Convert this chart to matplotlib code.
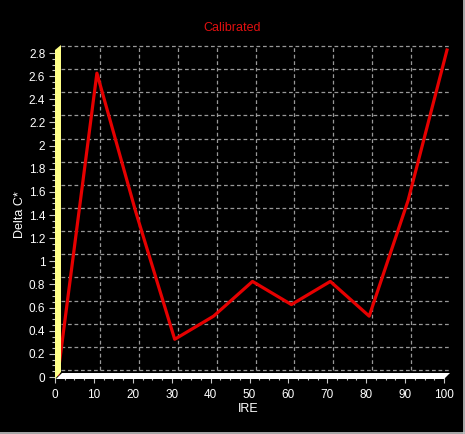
import matplotlib
matplotlib.use('Agg')
import matplotlib.pyplot as plt
from matplotlib.patches import Polygon
from matplotlib.lines import Line2D
from matplotlib.transforms import offset_copy, IdentityTransform
from matplotlib.ticker import MultipleLocator

# ---- data ----
ire = [0, 10, 20, 30, 40, 50, 60, 70, 80, 90, 100]
delta_c = [0.0, 2.6, 1.4, 0.3, 0.5, 0.8, 0.6, 0.8, 0.5, 1.5, 2.8]
x_ticks = [0, 10, 20, 30, 40, 50, 60, 70, 80, 90, 100]
y_ticks = [0, 0.2, 0.4, 0.6, 0.8, 1.0, 1.2, 1.4, 1.6, 1.8, 2.0, 2.2, 2.4, 2.6, 2.8]
y_tick_labels = ['0', '0.2', '0.4', '0.6', '0.8', '1', '1.2', '1.4', '1.6', '1.8',
                 '2', '2.2', '2.4', '2.6', '2.8']
title = 'Calibrated'
x_label = 'IRE'
y_label = 'Delta C*'

FONT = ['Liberation Sans', 'DejaVu Sans']
plt.rcParams['font.family'] = FONT

W, H = 465, 434
fig = plt.figure(figsize=(W / 100, H / 100), dpi=100, facecolor='black')
ax = fig.add_axes([55 / W, (H - 377) / H, 389 / W, 324 / H])
ax.set_facecolor('black')
ax.set_xlim(0, 100)
ax.set_ylim(0, 2.8)
for s in ax.spines.values():
    s.set_visible(False)

# depth offsets (pixels)
DX, DY = 6, 7
back = offset_copy(ax.transData, fig=fig, x=DX, y=DY, units='dots')
mid = offset_copy(ax.transData, fig=fig, x=3, y=3, units='dots')

grid_kw = dict(color='#989898', lw=0.9, ls=(0, (3.0, 2.2)), clip_on=False, zorder=1)
for y in y_ticks:
    ax.plot([0, 100], [y, y], transform=back, **grid_kw)
for x in x_ticks[1:-1]:
    ax.plot([x, x], [0, 2.8], transform=back, **grid_kw)

# 3D wall and floor (decoration, from axis limits)
def px(x, y, ox=0, oy=0):
    X, Y = ax.transData.transform((x, y))
    return (X + ox, Y + oy)

wall = Polygon([px(0, 0, 0, -2), px(0, 2.8, 0, 3), px(0, 2.8, DX, 8), px(0, 0, DX, 5)],
               closed=True, facecolor='#ffff88', edgecolor='none',
               transform=IdentityTransform(), zorder=2)
fig.add_artist(wall)
floor = Polygon([px(0, 0, 1, -2), px(100, 0, 0, -2), px(100, 0, DX, 4), px(0, 0, DX + 1, 4)],
                closed=True, facecolor='white', edgecolor='none',
                transform=IdentityTransform(), zorder=2)
fig.add_artist(floor)

# data line
ax.plot(ire, delta_c, transform=mid, color='#e60000', lw=2.3, clip_on=False, zorder=5)

# ticks
ax.set_xticks(x_ticks)
ax.set_xticklabels([str(v) for v in x_ticks])
ax.set_yticks(y_ticks)
ax.set_yticklabels(y_tick_labels)
ax.xaxis.set_minor_locator(MultipleLocator(2.5))
ax.yaxis.set_minor_locator(MultipleLocator(0.05))
ax.tick_params(which='major', direction='out', length=4, width=0.8, color='#c8c8c8',
               labelcolor='white', labelsize=8.5, pad=3)
ax.tick_params(which='minor', direction='out', length=2, width=0.8, color='#c8c8c8')
ax.tick_params(axis='x', which='both', pad=5)

# texts
fig.text(232 / W, 1 - 28 / H, title, color='#e01010', fontsize=9, ha='center', va='center')
fig.text(248 / W, 1 - 409 / H, x_label, color='white', fontsize=9, ha='center', va='center')
fig.text(20 / W, 1 - 215 / H, y_label, color='white', fontsize=9, ha='center', va='center',
         rotation=90)

# outer frame
fig.add_artist(Line2D([463.5 / W, 463.5 / W], [1.5 / H, 1], color='#c8c8c8', lw=1.2,
                      transform=fig.transFigure))
fig.add_artist(Line2D([0, 463.5 / W], [1.5 / H, 1.5 / H], color='#c8c8c8', lw=1.2,
                      transform=fig.transFigure))

fig.savefig('out.png', dpi=100, facecolor='black')
